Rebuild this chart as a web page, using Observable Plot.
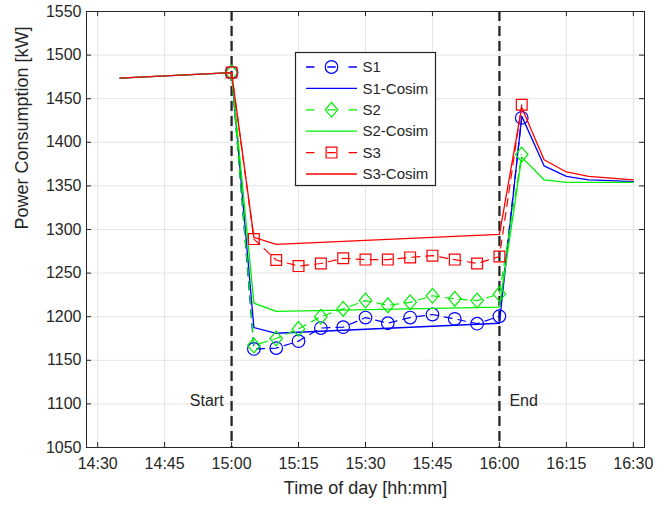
<!DOCTYPE html>
<html><head><meta charset="utf-8">
<script src="https://cdn.jsdelivr.net/npm/d3@7"></script>
<script src="https://cdn.jsdelivr.net/npm/@observablehq/plot@0.6"></script>
<style>
body{margin:0;background:#fff;}
#chart{position:relative;width:671px;height:507px;}
svg{font-family:"Liberation Sans",Arial,Helvetica,sans-serif;}
</style></head><body><div id="chart"></div>
<script>
// ---- data ----
const xTickLabels = ["14:30","14:45","15:00","15:15","15:30","15:45","16:00","16:15","16:30"];
const yTicks = [1050,1100,1150,1200,1250,1300,1350,1400,1450,1500,1550];
const eventTimes = ["15:00","16:00"];
const eventLabels = ["Start","End"];
const eventLabelLevel = 1103;

const measTimes = ["15:00","15:05","15:10","15:15","15:20","15:25","15:30","15:35","15:40","15:45","15:50","15:55","16:00","16:05"];
const s1 = [1480,1163,1164,1172,1187,1188,1199,1192.5,1199,1202.5,1197.5,1192,1200.5,1428];
const s2 = [1480,1167,1175,1186,1200,1209,1218.5,1213,1216.5,1224,1220.5,1218.5,1226,1386];
const s3 = [1480,1289,1265,1258,1261,1267,1265.5,1265.5,1268,1270,1265.5,1261,1269,1443];

const cosimTimes = ["14:35","15:00","15:05","15:10","16:00","16:05","16:10","16:15","16:20","16:25","16:30"];
const s1Cosim = [1473.5,1480,1187.5,1181,1192.5,1430,1373,1361,1357,1356,1355];
const s2Cosim = [1473.5,1480,1215.5,1206,1211,1383,1357,1354,1354,1354,1354];
const s3Cosim = [1473.5,1480,1291,1283,1294.5,1440,1380,1366,1361,1359,1357];

const seriesNames = ["S1","S2","S3"];
const seriesColors = ["#0000ff","#00f000","#ff0000"];

// ---- helpers ----
const toMin = s => { const [h,m] = s.split(":").map(Number); return h*60+m; };
const fmt = v => `${Math.floor(v/60)}:${String(v%60).padStart(2,"0")}`;
const xTicks = xTickLabels.map(toMin);

const W = 671, H = 507, mL = 86, mR = 27, mT = 11, mB = 60;
const fw = W - mL - mR, fh = H - mT - mB;
const ink = "#262626";

const circleSym = {draw(ctx, size){ const r = Math.sqrt(size/Math.PI)*1.05; ctx.moveTo(r,0); ctx.arc(0,0,r,0,2*Math.PI); ctx.closePath(); }};
const diamondSym = {draw(ctx, size){ const r = Math.sqrt(size/Math.PI); const hx=r*1.05, hy=r*1.23; ctx.moveTo(0,-hy); ctx.lineTo(hx,0); ctx.lineTo(0,hy); ctx.lineTo(-hx,0); ctx.closePath(); }};
const squareSym = {draw(ctx, size){ const r = Math.sqrt(size/Math.PI)*0.9; ctx.rect(-r,-r,2*r,2*r); }};
const symbols = [circleSym, diamondSym, squareSym];

const measVals = [s1,s2,s3];
const cosimVals = [s1Cosim,s2Cosim,s3Cosim];

const marks = [
  Plot.gridX(xTicks, {stroke:"#e4e4e4", strokeOpacity:1}),
  Plot.gridY(yTicks, {stroke:"#e4e4e4", strokeOpacity:1}),
  Plot.ruleX(eventTimes.map(toMin), {stroke:ink, strokeWidth:2.3, strokeDasharray:"10,5"}),
  Plot.text([{t:toMin(eventTimes[0]), label:eventLabels[0]}], {x:"t", y:()=>eventLabelLevel, text:"label", textAnchor:"end", dx:-8, fontSize:16, fill:ink}),
  Plot.text([{t:toMin(eventTimes[1]), label:eventLabels[1]}], {x:"t", y:()=>eventLabelLevel, text:"label", textAnchor:"start", dx:10, fontSize:16, fill:ink})
];

for (let k = 0; k < 3; k++) {
  const meas = measTimes.map((t,i)=>({t:toMin(t), v:measVals[k][i]}));
  const cos = cosimTimes.map((t,i)=>({t:toMin(t), v:cosimVals[k][i]}));
  marks.push(Plot.line(meas, {x:"t", y:"v", stroke:seriesColors[k], strokeWidth:1.2, strokeDasharray:"8,6"}));
  marks.push(Plot.dot(meas, {x:"t", y:"v", symbol:symbols[k], r:6, stroke:seriesColors[k], fill:"none", strokeWidth:1.2}));
  marks.push(Plot.line(cos, {x:"t", y:"v", stroke:seriesColors[k], strokeWidth:1.3}));
}

marks.push(
  Plot.frame({stroke:ink, strokeWidth:1}),
  Plot.tickX(xTicks, {x:d=>d, insetTop:fh-5, stroke:ink}),
  Plot.tickX(xTicks, {x:d=>d, insetBottom:fh-5, stroke:ink}),
  Plot.tickY(yTicks, {y:d=>d, insetRight:fw-5, stroke:ink}),
  Plot.tickY(yTicks, {y:d=>d, insetLeft:fw-5, stroke:ink}),
  Plot.axisX({ticks:xTicks, tickFormat:fmt, tickSize:0, tickPadding:10, fontSize:16, label:null, color:ink}),
  Plot.axisY({ticks:yTicks, tickFormat:d=>String(d), tickSize:0, tickPadding:5, fontSize:16, label:null, color:ink}),
  Plot.text(["Time of day [hh:mm]"], {text:d=>d, frameAnchor:"bottom", dy:46, fontSize:18, fill:ink}),
  Plot.text(["Power Consumption [kW]"], {text:d=>d, frameAnchor:"left", dx:-64, rotate:-90, fontSize:18, fill:ink})
);

const chart = Plot.plot({
  width:W, height:H,
  marginLeft:mL, marginRight:mR, marginTop:mT, marginBottom:mB,
  style:{fontFamily:'"Liberation Sans",Arial,Helvetica,sans-serif', background:"#fff"},
  x:{type:"linear", domain:[toMin("14:27")+0.5, toMin("16:32")+0.5]},
  y:{domain:[yTicks[0], yTicks[yTicks.length-1]]},
  marks
});
document.getElementById("chart").appendChild(chart);

// ---- legend ----
const legendNames = ["S1","S1-Cosim","S2","S2-Cosim","S3","S3-Cosim"];
const lg = d3.select(chart).append("g").attr("transform","translate(295.5,52.5)");
lg.append("rect").attr("width",140).attr("height",133).attr("fill","#fff").attr("stroke",ink).attr("stroke-width",1.2);
legendNames.forEach((name,i)=>{
  const k = Math.floor(i/2), isMeas = i%2===0;
  const y = 14.5 + i*21.4;
  const row = lg.append("g").attr("transform",`translate(0,${y})`);
  row.append("line").attr("x1",10.5).attr("x2",61.5).attr("y1",0).attr("y2",0)
    .attr("stroke",seriesColors[k]).attr("stroke-width",1.3)
    .attr("stroke-dasharray", isMeas ? "8.5,12.75" : null);
  if (isMeas) {
    row.append("path").attr("transform","translate(36,0)")
      .attr("d", d3.symbol(symbols[k], Math.PI*36)())
      .attr("fill","none").attr("stroke",seriesColors[k]).attr("stroke-width",1.2);
  }
  row.append("text").attr("x",67).attr("y",0).attr("dy","0.35em")
    .attr("text-anchor","start")
    .attr("font-size",15).attr("fill",ink).text(name);
});
</script></body></html>
